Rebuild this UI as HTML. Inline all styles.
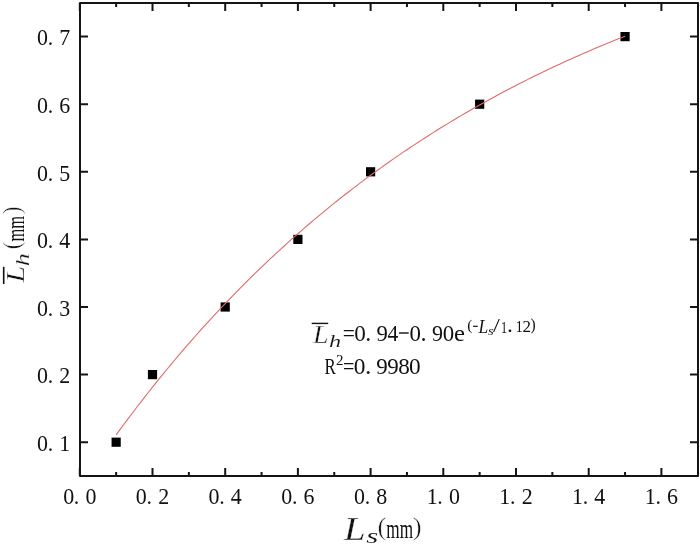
<!DOCTYPE html><html><head><meta charset="utf-8"><style>html,body{margin:0;padding:0;background:#fff;}svg{display:block;will-change:transform;}text{font-family:"Liberation Serif",serif;}</style></head><body>
<svg width="700" height="546" viewBox="0 0 700 546">
<rect width="700" height="546" fill="#fff"/>
<rect x="111.55" y="437.60" width="9.2" height="9.2" fill="#000"/>
<rect x="147.90" y="370.00" width="9.2" height="9.2" fill="#000"/>
<rect x="220.60" y="302.40" width="9.2" height="9.2" fill="#000"/>
<rect x="293.30" y="234.80" width="9.2" height="9.2" fill="#000"/>
<rect x="366.00" y="167.20" width="9.2" height="9.2" fill="#000"/>
<rect x="475.05" y="99.60" width="9.2" height="9.2" fill="#000"/>
<rect x="620.45" y="32.00" width="9.2" height="9.2" fill="#000"/>
<polyline fill="none" stroke="#df6a6a" stroke-width="1.1" points="116.15,434.88 119.78,429.91 123.42,424.99 127.06,420.12 130.69,415.28 134.32,410.49 137.96,405.74 141.59,401.04 145.23,396.37 148.87,391.75 152.50,387.17 156.13,382.63 159.77,378.13 163.41,373.67 167.04,369.25 170.68,364.87 174.31,360.52 177.94,356.22 181.58,351.95 185.21,347.73 188.85,343.53 192.49,339.38 196.12,335.26 199.75,331.18 203.39,327.14 207.02,323.13 210.66,319.16 214.30,315.22 217.93,311.32 221.56,307.46 225.20,303.62 228.84,299.82 232.47,296.06 236.10,292.33 239.74,288.63 243.38,284.96 247.01,281.33 250.64,277.73 254.28,274.16 257.92,270.62 261.55,267.12 265.19,263.64 268.82,260.20 272.45,256.79 276.09,253.40 279.72,250.05 283.36,246.73 287.00,243.43 290.63,240.17 294.26,236.93 297.90,233.73 301.53,230.55 305.17,227.40 308.80,224.28 312.44,221.18 316.07,218.12 319.71,215.08 323.34,212.06 326.98,209.08 330.61,206.12 334.25,203.19 337.88,200.28 341.52,197.40 345.15,194.54 348.79,191.71 352.43,188.91 356.06,186.13 359.69,183.37 363.33,180.64 366.96,177.93 370.60,175.25 374.24,172.59 377.87,169.96 381.50,167.34 385.14,164.76 388.77,162.19 392.41,159.65 396.05,157.13 399.68,154.63 403.31,152.15 406.95,149.70 410.58,147.27 414.22,144.86 417.85,142.47 421.49,140.10 425.12,137.75 428.76,135.43 432.39,133.12 436.03,130.84 439.67,128.57 443.30,126.33 446.94,124.10 450.57,121.90 454.21,119.72 457.84,117.55 461.48,115.40 465.11,113.28 468.74,111.17 472.38,109.08 476.02,107.01 479.65,104.95 483.28,102.92 486.92,100.90 490.56,98.90 494.19,96.92 497.83,94.96 501.46,93.01 505.09,91.09 508.73,89.17 512.37,87.28 516.00,85.40 519.63,83.54 523.27,81.70 526.90,79.87 530.54,78.06 534.17,76.26 537.81,74.48 541.44,72.72 545.08,70.97 548.72,69.24 552.35,67.52 555.98,65.82 559.62,64.13 563.25,62.46 566.89,60.80 570.52,59.16 574.16,57.53 577.79,55.92 581.43,54.32 585.07,52.73 588.70,51.16 592.33,49.60 595.97,48.06 599.60,46.53 603.24,45.02 606.88,43.51 610.51,42.02 614.14,40.55 617.78,39.09 621.41,37.64 625.05,36.20"/>
<path d="M79.80 476V468M79.80 3V11M116.15 476V472M116.15 3V7M152.50 476V468M152.50 3V11M188.85 476V472M188.85 3V7M225.20 476V468M225.20 3V11M261.55 476V472M261.55 3V7M297.90 476V468M297.90 3V11M334.25 476V472M334.25 3V7M370.60 476V468M370.60 3V11M406.95 476V472M406.95 3V7M443.30 476V468M443.30 3V11M479.65 476V472M479.65 3V7M516.00 476V468M516.00 3V11M552.35 476V472M552.35 3V7M588.70 476V468M588.70 3V11M625.05 476V472M625.05 3V7M661.40 476V468M661.40 3V11M80 442.20H88M698 442.20H690M80 374.60H88M698 374.60H690M80 307.00H88M698 307.00H690M80 239.40H88M698 239.40H690M80 171.80H88M698 171.80H690M80 104.20H88M698 104.20H690M80 36.60H88M698 36.60H690" stroke="#141414" stroke-width="2" fill="none"/>
<rect x="80" y="3" width="618" height="473" fill="none" stroke="#141414" stroke-width="2" stroke-linejoin="round"/>
<g font-size="23.6" fill="#111">
<text transform="translate(63.16 503.70) scale(0.93 1)">0</text><text transform="translate(73.86 503.70) scale(0.93 1)">.</text><text transform="translate(85.46 503.70) scale(0.93 1)">0</text>
<text transform="translate(135.86 503.70) scale(0.93 1)">0</text><text transform="translate(146.56 503.70) scale(0.93 1)">.</text><text transform="translate(158.16 503.70) scale(0.93 1)">2</text>
<text transform="translate(208.56 503.70) scale(0.93 1)">0</text><text transform="translate(219.26 503.70) scale(0.93 1)">.</text><text transform="translate(230.86 503.70) scale(0.93 1)">4</text>
<text transform="translate(281.26 503.70) scale(0.93 1)">0</text><text transform="translate(291.96 503.70) scale(0.93 1)">.</text><text transform="translate(303.56 503.70) scale(0.93 1)">6</text>
<text transform="translate(353.96 503.70) scale(0.93 1)">0</text><text transform="translate(364.66 503.70) scale(0.93 1)">.</text><text transform="translate(376.26 503.70) scale(0.93 1)">8</text>
<text transform="translate(426.66 503.70) scale(0.93 1)">1</text><text transform="translate(437.36 503.70) scale(0.93 1)">.</text><text transform="translate(448.96 503.70) scale(0.93 1)">0</text>
<text transform="translate(499.36 503.70) scale(0.93 1)">1</text><text transform="translate(510.06 503.70) scale(0.93 1)">.</text><text transform="translate(521.66 503.70) scale(0.93 1)">2</text>
<text transform="translate(572.06 503.70) scale(0.93 1)">1</text><text transform="translate(582.76 503.70) scale(0.93 1)">.</text><text transform="translate(594.36 503.70) scale(0.93 1)">4</text>
<text transform="translate(644.76 503.70) scale(0.93 1)">1</text><text transform="translate(655.46 503.70) scale(0.93 1)">.</text><text transform="translate(667.06 503.70) scale(0.93 1)">6</text>
<text transform="translate(37.01 451.00) scale(0.93 1)">0</text><text transform="translate(47.71 451.00) scale(0.93 1)">.</text><text transform="translate(59.31 451.00) scale(0.93 1)">1</text>
<text transform="translate(37.01 383.40) scale(0.93 1)">0</text><text transform="translate(47.71 383.40) scale(0.93 1)">.</text><text transform="translate(59.31 383.40) scale(0.93 1)">2</text>
<text transform="translate(37.01 315.80) scale(0.93 1)">0</text><text transform="translate(47.71 315.80) scale(0.93 1)">.</text><text transform="translate(59.31 315.80) scale(0.93 1)">3</text>
<text transform="translate(37.01 248.20) scale(0.93 1)">0</text><text transform="translate(47.71 248.20) scale(0.93 1)">.</text><text transform="translate(59.31 248.20) scale(0.93 1)">4</text>
<text transform="translate(37.01 180.60) scale(0.93 1)">0</text><text transform="translate(47.71 180.60) scale(0.93 1)">.</text><text transform="translate(59.31 180.60) scale(0.93 1)">5</text>
<text transform="translate(37.01 113.00) scale(0.93 1)">0</text><text transform="translate(47.71 113.00) scale(0.93 1)">.</text><text transform="translate(59.31 113.00) scale(0.93 1)">6</text>
<text transform="translate(37.01 45.40) scale(0.93 1)">0</text><text transform="translate(47.71 45.40) scale(0.93 1)">.</text><text transform="translate(59.31 45.40) scale(0.93 1)">7</text>
</g>
<g fill="#111">
<text transform="translate(344.05 540.00) scale(1.155 1)" font-size="33.45" font-style="italic" stroke="#fff" stroke-width="0.3" vector-effect="non-scaling-stroke" >L</text>
<text transform="translate(366.32 543.19) scale(1.441 1)" font-size="21.42" font-style="italic" stroke="#fff" stroke-width="0.1" vector-effect="non-scaling-stroke" >s</text>
<text transform="translate(377.44 534.58) scale(1.039 1)" font-size="25.48" stroke="#fff" stroke-width="0.5" vector-effect="non-scaling-stroke" >(</text>
<text transform="translate(386.34 537.80) scale(0.653 1)" font-size="26.32" >mm</text>
<text transform="translate(412.83 534.58) scale(1.055 1)" font-size="25.48" stroke="#fff" stroke-width="0.5" vector-effect="non-scaling-stroke" >)</text>
</g>
<g fill="#111" transform="rotate(-90)">
<rect x="-284" y="2.9" width="17.2" height="1.6" fill="#111"/>
<text transform="translate(-282.64 24.20) scale(1.176 1)" font-size="25.81" font-style="italic" stroke="#fff" stroke-width="0.4" vector-effect="non-scaling-stroke" >L</text>
<text transform="translate(-266.34 28.90) scale(1.374 1)" font-size="18.95" font-style="italic" stroke="#fff" stroke-width="0.25" vector-effect="non-scaling-stroke" >h</text>
<text transform="translate(-249.33 19.75) scale(0.913 1)" font-size="25.59" stroke="#fff" stroke-width="0.5" vector-effect="non-scaling-stroke" >(</text>
<text transform="translate(-241.55 23.60) scale(0.649 1)" font-size="25.47" >mm</text>
<text transform="translate(-214.37 19.75) scale(0.928 1)" font-size="25.59" stroke="#fff" stroke-width="0.5" vector-effect="non-scaling-stroke" >)</text>
</g>
<g fill="#111">
<rect x="311.7" y="322.7" width="16.5" height="1.4"/>
<text transform="translate(313.03 343.00) scale(1.120 1)" font-size="25.05" font-style="italic" stroke="#fff" stroke-width="0.35" vector-effect="non-scaling-stroke" >L</text>
<text transform="translate(328.92 346.80) scale(1.434 1)" font-size="17.01" font-style="italic" stroke="#fff" stroke-width="0.15" vector-effect="non-scaling-stroke" >h</text>
<text transform="translate(342.63 340.67) scale(0.895 1)" font-size="24.00" >=</text>
<text transform="translate(354.22 340.87) scale(0.975 1)" font-size="23.71" >0</text>
<text transform="translate(365.34 340.73) scale(0.903 1)" font-size="26.23" >.</text>
<text transform="translate(376.57 340.67) scale(0.967 1)" font-size="23.52" >9</text>
<text transform="translate(387.48 340.50) scale(0.970 1)" font-size="22.18" >4</text>
<rect x="399" y="332.3" width="9.7" height="1.4"/>
<text transform="translate(409.53 340.77) scale(0.971 1)" font-size="23.56" >0</text>
<text transform="translate(420.48 340.64) scale(0.967 1)" font-size="25.39" >.</text>
<text transform="translate(431.99 340.67) scale(0.937 1)" font-size="23.52" >9</text>
<text transform="translate(442.83 340.67) scale(0.977 1)" font-size="23.41" >0</text>
<text transform="translate(453.94 340.68) scale(1.085 1)" font-size="22.66" >e</text>
<text transform="translate(467.32 329.73) scale(1.046 1)" font-size="14.89" >(</text>
<rect x="473.1" y="325.7" width="4.6" height="1.2"/>
<text transform="translate(478.50 332.60) scale(0.954 1)" font-size="18.33" font-style="italic" >L</text>
<text transform="translate(488.12 334.77) scale(1.123 1)" font-size="13.10" font-style="italic" >s</text>
<text transform="translate(493.10 332.42) scale(1.319 1)" font-size="18.84" >/</text>
<text transform="translate(500.93 332.60) scale(0.720 1)" font-size="16.97" >1</text>
<text transform="translate(507.04 332.29) scale(1.077 1)" font-size="22.00" >.</text>
<text transform="translate(515.78 332.00) scale(0.867 1)" font-size="16.06" >1</text>
<text transform="translate(522.55 332.00) scale(1.060 1)" font-size="16.01" >2</text>
<text transform="translate(530.50 330.04) scale(0.988 1)" font-size="15.77" >)</text>
<text transform="translate(324.61 373.60) scale(0.717 1)" font-size="23.67" >R</text>
<text transform="translate(336.04 364.60) scale(1.001 1)" font-size="14.95" >2</text>
<text transform="translate(342.99 373.87) scale(0.842 1)" font-size="24.00" >=</text>
<text transform="translate(353.81 373.77) scale(0.991 1)" font-size="23.56" >0</text>
<text transform="translate(365.03 373.64) scale(1.000 1)" font-size="25.39" >.</text>
<text transform="translate(376.36 373.77) scale(0.958 1)" font-size="23.96" >9</text>
<text transform="translate(387.36 373.77) scale(0.958 1)" font-size="23.96" >9</text>
<text transform="translate(398.22 373.77) scale(0.969 1)" font-size="23.86" >8</text>
<text transform="translate(409.11 373.77) scale(0.979 1)" font-size="23.86" >0</text>
</g>
</svg></body></html>
